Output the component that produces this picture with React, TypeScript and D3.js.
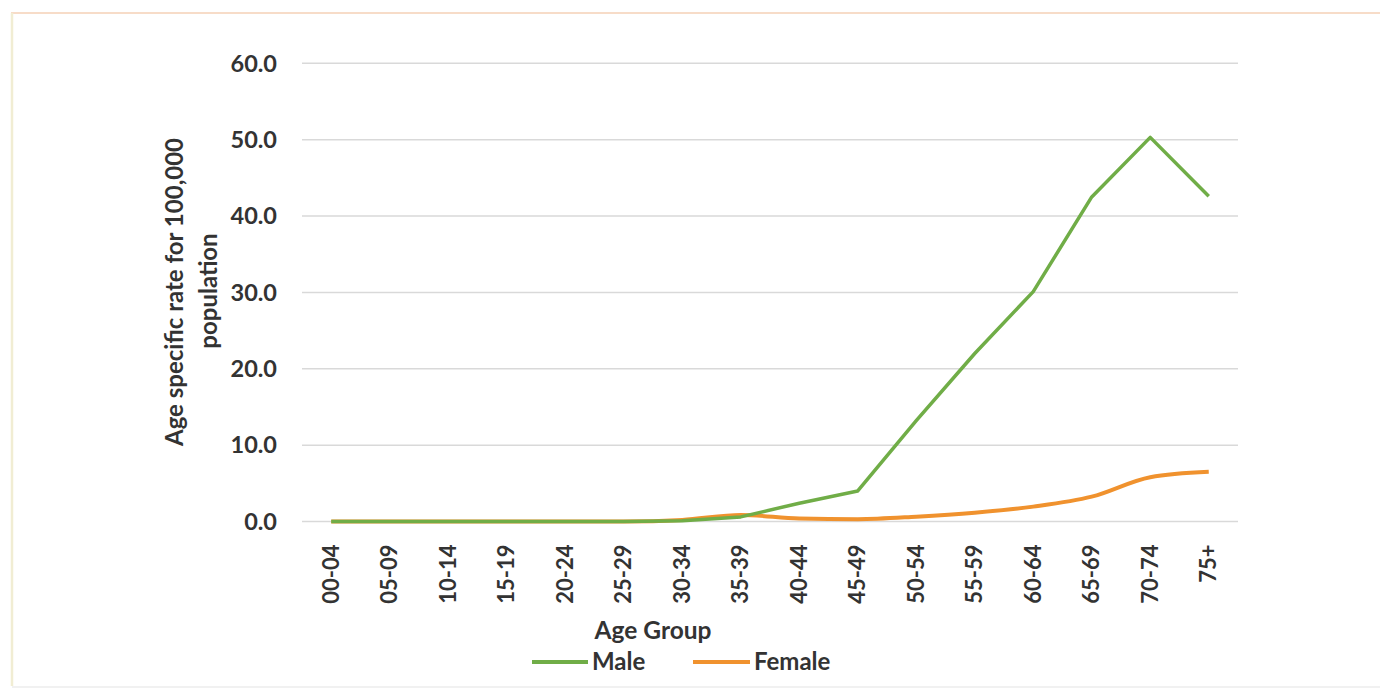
import React from "react";
import * as d3 from "d3";

const categories = ["00-04","05-09","10-14","15-19","20-24","25-29","30-34","35-39","40-44","45-49","50-54","55-59","60-64","65-69","70-74","75+"];
const maleValues = [0, 0, 0, 0, 0, 0, 0.1, 0.6, 2.4, 4.0, 13.2, 22.0, 30.1, 42.5, 50.3, 42.6];
const femaleValues = [0, 0, 0, 0, 0, 0, 0.2, 0.85, 0.4, 0.3, 0.63, 1.15, 1.95, 3.25, 5.8, 6.5];
const yTicks = [0, 10, 20, 30, 40, 50, 60];

const W = 1380, H = 689;
const M = { left: 302, right: 1238, top: 63.3, bottom: 521.5 };
const FONT = "Lato, 'Open Sans', sans-serif";
const TEXT = "#333333";
const MALE = "#70AD47";
const FEMALE = "#F0922E";

export default function App() {
  const x = d3.scaleBand<string>().domain(categories).range([M.left, M.right]);
  const y = d3.scaleLinear().domain([0, 60]).range([M.bottom, M.top]);
  const cx = (c: string) => (x(c) as number) + x.bandwidth() / 2;

  const maleLine = d3.line<number>().x((_, i) => cx(categories[i])).y(v => y(v)).curve(d3.curveLinear);
  const femaleLine = d3.line<number>().x((_, i) => cx(categories[i])).y(v => y(v)).curve(d3.curveMonotoneX);

  return (
    <svg width={W} height={H} style={{ position: "absolute", left: 0, top: 0, background: "#fff" }} fontFamily={FONT}>
      <rect x={0} y={0} width={W} height={H} fill="#fff" />
      <line x1={11} x2={W} y1={13} y2={13} stroke="#f7dcc8" strokeWidth={2} />
      <line x1={12} x2={12} y1={13} y2={686} stroke="#f1edd3" strokeWidth={2.5} />
      <line x1={12} x2={W} y1={687} y2={687} stroke="#f1f1f1" strokeWidth={2} />

      {yTicks.map(t => (
        <g key={t}>
          <line x1={M.left} x2={M.right} y1={y(t)} y2={y(t)} stroke="#d9d9d9" strokeWidth={1.5} />
          <text x={277} y={y(t)} dy="0.35em" textAnchor="end" fontSize={23.5} fontWeight="bold" fill={TEXT}>
            {t.toFixed(1)}
          </text>
        </g>
      ))}

      {categories.map(c => (
        <text key={c} transform={`translate(${cx(c)},${M.bottom + 23}) rotate(-90)`} textAnchor="end" dy="0.35em"
          fontSize={22} fontWeight="bold" fill={TEXT}>
          {c}
        </text>
      ))}

      <path d={femaleLine(femaleValues) || ""} fill="none" stroke={FEMALE} strokeWidth={4} strokeLinejoin="round" />
      <path d={maleLine(maleValues) || ""} fill="none" stroke={MALE} strokeWidth={3.5} strokeLinejoin="round" />

      <text x={653} y={630} textAnchor="middle" dy="0.35em" fontSize={24.5} fontWeight="bold" fill={TEXT}>Age Group</text>

      <g transform="translate(175,292) rotate(-90)">
        <text textAnchor="middle" dy="0.35em" fontSize={24} fontWeight="bold" fill={TEXT}>Age specific rate for 100,000</text>
      </g>
      <g transform="translate(209,291) rotate(-90)">
        <text textAnchor="middle" dy="0.35em" fontSize={24} fontWeight="bold" fill={TEXT}>population</text>
      </g>

      <line x1={532} x2={588} y1={662} y2={662} stroke={MALE} strokeWidth={4} />
      <text x={592} y={662} dy="0.35em" fontSize={24} fontWeight="bold" fill={TEXT}>Male</text>
      <line x1={693} x2={750} y1={662} y2={662} stroke={FEMALE} strokeWidth={4} />
      <text x={754} y={662} dy="0.35em" fontSize={24} fontWeight="bold" fill={TEXT}>Female</text>
    </svg>
  );
}
